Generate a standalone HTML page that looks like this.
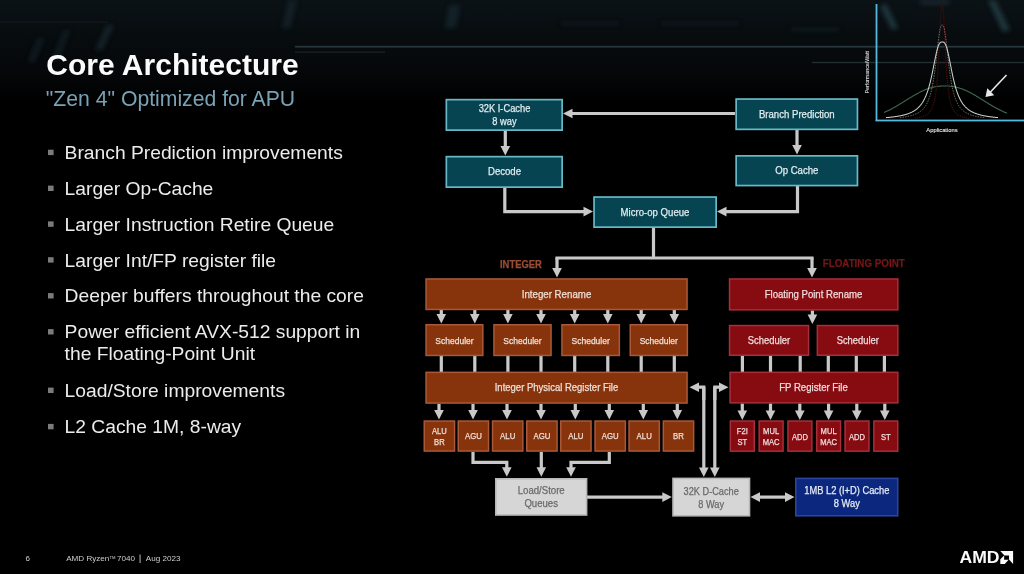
<!DOCTYPE html>
<html><head><meta charset="utf-8">
<style>
html,body{margin:0;padding:0;}
body{width:1024px;height:574px;overflow:hidden;position:relative;background:#000;font-family:"Liberation Sans",sans-serif;}
.bg{position:absolute;left:0;top:0;width:1024px;height:574px;will-change:transform;}
svg text{font-family:"Liberation Sans",sans-serif;}
</style></head>
<body>
<svg class="bg" width="1024" height="574" viewBox="0 0 1024 574">
<defs>
<linearGradient id="topg" x1="0" y1="0" x2="0" y2="1">
<stop offset="0" stop-color="#0b1216"/><stop offset="0.3" stop-color="#080d10"/><stop offset="0.7" stop-color="#05080a"/><stop offset="1" stop-color="#000"/>
</linearGradient>
<filter id="blur1" x="-50%" y="-50%" width="200%" height="200%"><feGaussianBlur stdDeviation="2.5"/></filter>
</defs>
<rect x="0" y="0" width="1024" height="100" fill="url(#topg)"/>
<g filter="url(#blur1)" opacity="0.75">
<polygon points="28,62 34,62 44,38 38,38" fill="#16242a"/>
<polygon points="52,60 58,60 70,30 64,30" fill="#16242a"/>
<polygon points="95,50 102,50 114,25 107,25" fill="#1a2a30"/>
<polygon points="282,28 290,28 297,0 289,0" fill="#18282e"/>
<polygon points="445,28 456,28 460,5 449,5" fill="#18282e"/>
<polygon points="880,6 886,4 898,28 892,30" fill="#28464e"/>
<polygon points="988,0 995,0 1010,30 1003,32" fill="#28464e"/>
<rect x="920" y="0" width="30" height="4" fill="#22363e"/>
<rect x="560" y="22" width="60" height="3" fill="#141e22"/>
<rect x="660" y="22" width="80" height="3" fill="#141e22"/>
<rect x="790" y="28" width="50" height="3" fill="#162226"/>
</g>
<rect x="0" y="21.5" width="108" height="1.2" fill="#131b1e"/>
<rect x="295" y="45.8" width="729" height="1.8" fill="#27363c"/>
<rect x="295" y="51.5" width="90" height="1.2" fill="#1a2428"/>
<rect x="812" y="61.8" width="212" height="1.4" fill="#222e32"/>
</svg>
<svg class="bg" width="1024" height="574" viewBox="0 0 1024 574">
<polyline points="735.00,113.50 571.50,113.50" fill="none" stroke="#c9c9c9" stroke-width="3.2" stroke-linejoin="miter"/>
<polygon points="563.00,113.50 572.50,108.70 572.50,118.30" fill="#c9c9c9"/>
<polyline points="505.30,131.00 505.30,147.00" fill="none" stroke="#c9c9c9" stroke-width="3.2" stroke-linejoin="miter"/>
<polygon points="505.30,155.50 500.50,146.00 510.10,146.00" fill="#c9c9c9"/>
<polyline points="504.80,188.00 504.80,211.60 584.50,211.60" fill="none" stroke="#c9c9c9" stroke-width="3.2" stroke-linejoin="miter"/>
<polygon points="593.00,211.60 583.50,206.80 583.50,216.40" fill="#c9c9c9"/>
<polyline points="797.00,130.00 797.00,146.00" fill="none" stroke="#c9c9c9" stroke-width="3.2" stroke-linejoin="miter"/>
<polygon points="797.00,154.50 792.20,145.00 801.80,145.00" fill="#c9c9c9"/>
<polyline points="797.50,186.00 797.50,211.60 725.50,211.60" fill="none" stroke="#c9c9c9" stroke-width="3.2" stroke-linejoin="miter"/>
<polygon points="717.00,211.60 726.50,206.80 726.50,216.40" fill="#c9c9c9"/>
<polyline points="653.50,228.00 653.50,258.00" fill="none" stroke="#c9c9c9" stroke-width="3.2" stroke-linejoin="miter"/>
<polyline points="557.00,258.00 557.00,269.00" fill="none" stroke="#c9c9c9" stroke-width="3.2" stroke-linejoin="miter"/>
<polygon points="557.00,277.50 552.20,268.00 561.80,268.00" fill="#c9c9c9"/>
<polyline points="555.40,258.00 813.60,258.00" fill="none" stroke="#c9c9c9" stroke-width="3.2" stroke-linejoin="miter"/>
<polyline points="812.00,258.00 812.00,269.00" fill="none" stroke="#c9c9c9" stroke-width="3.2" stroke-linejoin="miter"/>
<polygon points="812.00,277.50 807.20,268.00 816.80,268.00" fill="#c9c9c9"/>
<polyline points="441.30,310.00 441.30,315.00" fill="none" stroke="#c9c9c9" stroke-width="3.2" stroke-linejoin="miter"/>
<polygon points="441.30,323.50 436.50,314.00 446.10,314.00" fill="#c9c9c9"/>
<polyline points="441.30,356.00 441.30,372.00" fill="none" stroke="#c9c9c9" stroke-width="3.2" stroke-linejoin="miter"/>
<polyline points="474.80,310.00 474.80,315.00" fill="none" stroke="#c9c9c9" stroke-width="3.2" stroke-linejoin="miter"/>
<polygon points="474.80,323.50 470.00,314.00 479.60,314.00" fill="#c9c9c9"/>
<polyline points="474.80,356.00 474.80,372.00" fill="none" stroke="#c9c9c9" stroke-width="3.2" stroke-linejoin="miter"/>
<polyline points="507.90,310.00 507.90,315.00" fill="none" stroke="#c9c9c9" stroke-width="3.2" stroke-linejoin="miter"/>
<polygon points="507.90,323.50 503.10,314.00 512.70,314.00" fill="#c9c9c9"/>
<polyline points="507.90,356.00 507.90,372.00" fill="none" stroke="#c9c9c9" stroke-width="3.2" stroke-linejoin="miter"/>
<polyline points="541.00,310.00 541.00,315.00" fill="none" stroke="#c9c9c9" stroke-width="3.2" stroke-linejoin="miter"/>
<polygon points="541.00,323.50 536.20,314.00 545.80,314.00" fill="#c9c9c9"/>
<polyline points="541.00,356.00 541.00,372.00" fill="none" stroke="#c9c9c9" stroke-width="3.2" stroke-linejoin="miter"/>
<polyline points="574.70,310.00 574.70,315.00" fill="none" stroke="#c9c9c9" stroke-width="3.2" stroke-linejoin="miter"/>
<polygon points="574.70,323.50 569.90,314.00 579.50,314.00" fill="#c9c9c9"/>
<polyline points="574.70,356.00 574.70,372.00" fill="none" stroke="#c9c9c9" stroke-width="3.2" stroke-linejoin="miter"/>
<polyline points="607.80,310.00 607.80,315.00" fill="none" stroke="#c9c9c9" stroke-width="3.2" stroke-linejoin="miter"/>
<polygon points="607.80,323.50 603.00,314.00 612.60,314.00" fill="#c9c9c9"/>
<polyline points="607.80,356.00 607.80,372.00" fill="none" stroke="#c9c9c9" stroke-width="3.2" stroke-linejoin="miter"/>
<polyline points="641.20,310.00 641.20,315.00" fill="none" stroke="#c9c9c9" stroke-width="3.2" stroke-linejoin="miter"/>
<polygon points="641.20,323.50 636.40,314.00 646.00,314.00" fill="#c9c9c9"/>
<polyline points="641.20,356.00 641.20,372.00" fill="none" stroke="#c9c9c9" stroke-width="3.2" stroke-linejoin="miter"/>
<polyline points="674.30,310.00 674.30,315.00" fill="none" stroke="#c9c9c9" stroke-width="3.2" stroke-linejoin="miter"/>
<polygon points="674.30,323.50 669.50,314.00 679.10,314.00" fill="#c9c9c9"/>
<polyline points="674.30,356.00 674.30,372.00" fill="none" stroke="#c9c9c9" stroke-width="3.2" stroke-linejoin="miter"/>
<polyline points="439.00,404.00 439.00,411.00" fill="none" stroke="#c9c9c9" stroke-width="3.2" stroke-linejoin="miter"/>
<polygon points="439.00,419.50 434.20,410.00 443.80,410.00" fill="#c9c9c9"/>
<polyline points="473.00,404.00 473.00,411.00" fill="none" stroke="#c9c9c9" stroke-width="3.2" stroke-linejoin="miter"/>
<polygon points="473.00,419.50 468.20,410.00 477.80,410.00" fill="#c9c9c9"/>
<polyline points="507.00,404.00 507.00,411.00" fill="none" stroke="#c9c9c9" stroke-width="3.2" stroke-linejoin="miter"/>
<polygon points="507.00,419.50 502.20,410.00 511.80,410.00" fill="#c9c9c9"/>
<polyline points="541.00,404.00 541.00,411.00" fill="none" stroke="#c9c9c9" stroke-width="3.2" stroke-linejoin="miter"/>
<polygon points="541.00,419.50 536.20,410.00 545.80,410.00" fill="#c9c9c9"/>
<polyline points="575.30,404.00 575.30,411.00" fill="none" stroke="#c9c9c9" stroke-width="3.2" stroke-linejoin="miter"/>
<polygon points="575.30,419.50 570.50,410.00 580.10,410.00" fill="#c9c9c9"/>
<polyline points="609.30,404.00 609.30,411.00" fill="none" stroke="#c9c9c9" stroke-width="3.2" stroke-linejoin="miter"/>
<polygon points="609.30,419.50 604.50,410.00 614.10,410.00" fill="#c9c9c9"/>
<polyline points="643.30,404.00 643.30,411.00" fill="none" stroke="#c9c9c9" stroke-width="3.2" stroke-linejoin="miter"/>
<polygon points="643.30,419.50 638.50,410.00 648.10,410.00" fill="#c9c9c9"/>
<polyline points="677.30,404.00 677.30,411.00" fill="none" stroke="#c9c9c9" stroke-width="3.2" stroke-linejoin="miter"/>
<polygon points="677.30,419.50 672.50,410.00 682.10,410.00" fill="#c9c9c9"/>
<polyline points="812.40,310.50 812.40,315.50" fill="none" stroke="#c9c9c9" stroke-width="3.2" stroke-linejoin="miter"/>
<polygon points="812.40,324.00 807.60,314.50 817.20,314.50" fill="#c9c9c9"/>
<polyline points="742.40,356.00 742.40,372.00" fill="none" stroke="#c9c9c9" stroke-width="3.2" stroke-linejoin="miter"/>
<polyline points="770.50,356.00 770.50,372.00" fill="none" stroke="#c9c9c9" stroke-width="3.2" stroke-linejoin="miter"/>
<polyline points="800.20,356.00 800.20,372.00" fill="none" stroke="#c9c9c9" stroke-width="3.2" stroke-linejoin="miter"/>
<polyline points="828.30,356.00 828.30,372.00" fill="none" stroke="#c9c9c9" stroke-width="3.2" stroke-linejoin="miter"/>
<polyline points="856.30,356.00 856.30,372.00" fill="none" stroke="#c9c9c9" stroke-width="3.2" stroke-linejoin="miter"/>
<polyline points="884.40,356.00 884.40,372.00" fill="none" stroke="#c9c9c9" stroke-width="3.2" stroke-linejoin="miter"/>
<polyline points="742.30,403.50 742.30,411.50" fill="none" stroke="#c9c9c9" stroke-width="3.2" stroke-linejoin="miter"/>
<polygon points="742.30,420.00 737.50,410.50 747.10,410.50" fill="#c9c9c9"/>
<polyline points="770.50,403.50 770.50,411.50" fill="none" stroke="#c9c9c9" stroke-width="3.2" stroke-linejoin="miter"/>
<polygon points="770.50,420.00 765.70,410.50 775.30,410.50" fill="#c9c9c9"/>
<polyline points="799.80,403.50 799.80,411.50" fill="none" stroke="#c9c9c9" stroke-width="3.2" stroke-linejoin="miter"/>
<polygon points="799.80,420.00 795.00,410.50 804.60,410.50" fill="#c9c9c9"/>
<polyline points="828.60,403.50 828.60,411.50" fill="none" stroke="#c9c9c9" stroke-width="3.2" stroke-linejoin="miter"/>
<polygon points="828.60,420.00 823.80,410.50 833.40,410.50" fill="#c9c9c9"/>
<polyline points="856.80,403.50 856.80,411.50" fill="none" stroke="#c9c9c9" stroke-width="3.2" stroke-linejoin="miter"/>
<polygon points="856.80,420.00 852.00,410.50 861.60,410.50" fill="#c9c9c9"/>
<polyline points="884.80,403.50 884.80,411.50" fill="none" stroke="#c9c9c9" stroke-width="3.2" stroke-linejoin="miter"/>
<polygon points="884.80,420.00 880.00,410.50 889.60,410.50" fill="#c9c9c9"/>
<polyline points="473.00,452.00 473.00,462.30 506.80,462.30 506.80,468.30" fill="none" stroke="#c9c9c9" stroke-width="3.2" stroke-linejoin="miter"/>
<polygon points="506.80,476.80 502.00,467.30 511.60,467.30" fill="#c9c9c9"/>
<polyline points="541.30,452.00 541.30,468.30" fill="none" stroke="#c9c9c9" stroke-width="3.2" stroke-linejoin="miter"/>
<polygon points="541.30,476.80 536.50,467.30 546.10,467.30" fill="#c9c9c9"/>
<polyline points="609.30,452.00 609.30,462.30 571.00,462.30 571.00,468.30" fill="none" stroke="#c9c9c9" stroke-width="3.2" stroke-linejoin="miter"/>
<polygon points="571.00,476.80 566.20,467.30 575.80,467.30" fill="#c9c9c9"/>
<polyline points="703.80,400.00 703.80,387.20 698.00,387.20" fill="none" stroke="#c9c9c9" stroke-width="3.2" stroke-linejoin="miter"/>
<polygon points="689.50,387.20 699.00,382.40 699.00,392.00" fill="#c9c9c9"/>
<polyline points="703.80,387.20 703.80,468.50" fill="none" stroke="#c9c9c9" stroke-width="3.2" stroke-linejoin="miter"/>
<polygon points="703.80,477.00 699.00,467.50 708.60,467.50" fill="#c9c9c9"/>
<polyline points="714.80,400.00 714.80,387.20 720.00,387.20" fill="none" stroke="#c9c9c9" stroke-width="3.2" stroke-linejoin="miter"/>
<polygon points="728.50,387.20 719.00,382.40 719.00,392.00" fill="#c9c9c9"/>
<polyline points="714.80,387.20 714.80,468.50" fill="none" stroke="#c9c9c9" stroke-width="3.2" stroke-linejoin="miter"/>
<polygon points="714.80,477.00 710.00,467.50 719.60,467.50" fill="#c9c9c9"/>
<polyline points="587.00,497.10 663.30,497.10" fill="none" stroke="#c9c9c9" stroke-width="3.2" stroke-linejoin="miter"/>
<polygon points="671.80,497.10 662.30,492.30 662.30,501.90" fill="#c9c9c9"/>
<polyline points="770.00,497.10 759.00,497.10" fill="none" stroke="#c9c9c9" stroke-width="3.2" stroke-linejoin="miter"/>
<polygon points="750.50,497.10 760.00,492.30 760.00,501.90" fill="#c9c9c9"/>
<polyline points="770.00,497.10 786.00,497.10" fill="none" stroke="#c9c9c9" stroke-width="3.2" stroke-linejoin="miter"/>
<polygon points="794.50,497.10 785.00,492.30 785.00,501.90" fill="#c9c9c9"/>
<rect x="446.35" y="99.65" width="115.80" height="30.50" fill="#074452" stroke="#68b8c8" stroke-width="1.7"/>
<text x="504.50" y="111.60" font-size="10.23" textLength="51.70" lengthAdjust="spacingAndGlyphs" fill="#e0ecef" stroke="#e0ecef" stroke-width="0.25" font-weight="normal" text-anchor="middle" >32K I-Cache</text>
<text x="504.50" y="124.50" font-size="10.23" textLength="24.29" lengthAdjust="spacingAndGlyphs" fill="#e0ecef" stroke="#e0ecef" stroke-width="0.25" font-weight="normal" text-anchor="middle" >8 way</text>
<rect x="446.35" y="156.65" width="115.80" height="30.50" fill="#074452" stroke="#68b8c8" stroke-width="1.7"/>
<text x="504.50" y="175.00" font-size="10.56" textLength="33.09" lengthAdjust="spacingAndGlyphs" fill="#e0ecef" stroke="#e0ecef" stroke-width="0.25" font-weight="normal" text-anchor="middle" >Decode</text>
<rect x="736.15" y="99.05" width="121.30" height="30.30" fill="#074452" stroke="#68b8c8" stroke-width="1.7"/>
<text x="796.80" y="117.60" font-size="10.56" textLength="75.77" lengthAdjust="spacingAndGlyphs" fill="#e0ecef" stroke="#e0ecef" stroke-width="0.25" font-weight="normal" text-anchor="middle" >Branch Prediction</text>
<rect x="736.15" y="155.85" width="121.30" height="29.70" fill="#074452" stroke="#68b8c8" stroke-width="1.7"/>
<text x="796.80" y="174.00" font-size="10.56" textLength="43.22" lengthAdjust="spacingAndGlyphs" fill="#e0ecef" stroke="#e0ecef" stroke-width="0.25" font-weight="normal" text-anchor="middle" >Op Cache</text>
<rect x="594.05" y="197.05" width="122.10" height="30.10" fill="#074452" stroke="#68b8c8" stroke-width="1.7"/>
<text x="655.00" y="215.50" font-size="10.56" textLength="68.83" lengthAdjust="spacingAndGlyphs" fill="#e0ecef" stroke="#e0ecef" stroke-width="0.25" font-weight="normal" text-anchor="middle" >Micro-op Queue</text>
<text x="500.00" y="268.20" font-size="10.34" textLength="41.78" lengthAdjust="spacingAndGlyphs" fill="#9a4c36" stroke="#9a4c36" stroke-width="0.25" font-weight="bold" text-anchor="start" >INTEGER</text>
<text x="822.70" y="267.40" font-size="10.78" textLength="82.02" lengthAdjust="spacingAndGlyphs" fill="#741618" stroke="#741618" stroke-width="0.25" font-weight="bold" text-anchor="start" >FLOATING POINT</text>
<rect x="426.05" y="278.95" width="261.00" height="30.50" fill="#87330c" stroke="#a9593a" stroke-width="1.5"/>
<text x="556.50" y="297.50" font-size="10.67" textLength="69.56" lengthAdjust="spacingAndGlyphs" fill="#eee0d8" stroke="#eee0d8" stroke-width="0.25" font-weight="normal" text-anchor="middle" >Integer Rename</text>
<rect x="426.05" y="324.75" width="56.80" height="30.70" fill="#87330c" stroke="#a9593a" stroke-width="1.5"/>
<text x="454.45" y="343.50" font-size="9.35" textLength="38.28" lengthAdjust="spacingAndGlyphs" fill="#eee0d8" stroke="#eee0d8" stroke-width="0.25" font-weight="normal" text-anchor="middle" >Scheduler</text>
<rect x="493.95" y="324.75" width="57.10" height="30.70" fill="#87330c" stroke="#a9593a" stroke-width="1.5"/>
<text x="522.50" y="343.50" font-size="9.35" textLength="38.28" lengthAdjust="spacingAndGlyphs" fill="#eee0d8" stroke="#eee0d8" stroke-width="0.25" font-weight="normal" text-anchor="middle" >Scheduler</text>
<rect x="561.95" y="324.75" width="57.40" height="30.70" fill="#87330c" stroke="#a9593a" stroke-width="1.5"/>
<text x="590.65" y="343.50" font-size="9.35" textLength="38.28" lengthAdjust="spacingAndGlyphs" fill="#eee0d8" stroke="#eee0d8" stroke-width="0.25" font-weight="normal" text-anchor="middle" >Scheduler</text>
<rect x="630.25" y="324.75" width="57.10" height="30.70" fill="#87330c" stroke="#a9593a" stroke-width="1.5"/>
<text x="658.80" y="343.50" font-size="9.35" textLength="38.28" lengthAdjust="spacingAndGlyphs" fill="#eee0d8" stroke="#eee0d8" stroke-width="0.25" font-weight="normal" text-anchor="middle" >Scheduler</text>
<rect x="426.05" y="372.35" width="261.00" height="30.70" fill="#87330c" stroke="#a9593a" stroke-width="1.5"/>
<text x="556.50" y="391.00" font-size="10.45" textLength="123.55" lengthAdjust="spacingAndGlyphs" fill="#eee0d8" stroke="#eee0d8" stroke-width="0.25" font-weight="normal" text-anchor="middle" >Integer Physical Register File</text>
<rect x="424.25" y="421.05" width="30.30" height="30.00" fill="#87330c" stroke="#a9593a" stroke-width="1.5"/>
<text x="439.40" y="434.00" font-size="8.36" textLength="14.78" lengthAdjust="spacingAndGlyphs" fill="#eee0d8" stroke="#eee0d8" stroke-width="0.25" font-weight="normal" text-anchor="middle" >ALU</text>
<text x="439.40" y="444.50" font-size="8.36" textLength="10.56" lengthAdjust="spacingAndGlyphs" fill="#eee0d8" stroke="#eee0d8" stroke-width="0.25" font-weight="normal" text-anchor="middle" >BR</text>
<rect x="458.25" y="421.05" width="30.30" height="30.00" fill="#87330c" stroke="#a9593a" stroke-width="1.5"/>
<text x="473.40" y="439.30" font-size="8.58" textLength="16.90" lengthAdjust="spacingAndGlyphs" fill="#eee0d8" stroke="#eee0d8" stroke-width="0.25" font-weight="normal" text-anchor="middle" >AGU</text>
<rect x="492.55" y="421.05" width="30.30" height="30.00" fill="#87330c" stroke="#a9593a" stroke-width="1.5"/>
<text x="507.70" y="439.30" font-size="8.58" textLength="15.17" lengthAdjust="spacingAndGlyphs" fill="#eee0d8" stroke="#eee0d8" stroke-width="0.25" font-weight="normal" text-anchor="middle" >ALU</text>
<rect x="526.75" y="421.05" width="30.30" height="30.00" fill="#87330c" stroke="#a9593a" stroke-width="1.5"/>
<text x="541.90" y="439.30" font-size="8.58" textLength="16.90" lengthAdjust="spacingAndGlyphs" fill="#eee0d8" stroke="#eee0d8" stroke-width="0.25" font-weight="normal" text-anchor="middle" >AGU</text>
<rect x="560.75" y="421.05" width="30.30" height="30.00" fill="#87330c" stroke="#a9593a" stroke-width="1.5"/>
<text x="575.90" y="439.30" font-size="8.58" textLength="15.17" lengthAdjust="spacingAndGlyphs" fill="#eee0d8" stroke="#eee0d8" stroke-width="0.25" font-weight="normal" text-anchor="middle" >ALU</text>
<rect x="595.05" y="421.05" width="30.30" height="30.00" fill="#87330c" stroke="#a9593a" stroke-width="1.5"/>
<text x="610.20" y="439.30" font-size="8.58" textLength="16.90" lengthAdjust="spacingAndGlyphs" fill="#eee0d8" stroke="#eee0d8" stroke-width="0.25" font-weight="normal" text-anchor="middle" >AGU</text>
<rect x="629.05" y="421.05" width="30.30" height="30.00" fill="#87330c" stroke="#a9593a" stroke-width="1.5"/>
<text x="644.20" y="439.30" font-size="8.58" textLength="15.17" lengthAdjust="spacingAndGlyphs" fill="#eee0d8" stroke="#eee0d8" stroke-width="0.25" font-weight="normal" text-anchor="middle" >ALU</text>
<rect x="663.35" y="421.05" width="30.30" height="30.00" fill="#87330c" stroke="#a9593a" stroke-width="1.5"/>
<text x="678.50" y="439.30" font-size="8.58" textLength="10.84" lengthAdjust="spacingAndGlyphs" fill="#eee0d8" stroke="#eee0d8" stroke-width="0.25" font-weight="normal" text-anchor="middle" >BR</text>
<rect x="729.55" y="278.95" width="168.30" height="30.90" fill="#860c12" stroke="#a5303a" stroke-width="1.5"/>
<text x="813.50" y="297.80" font-size="10.56" textLength="97.66" lengthAdjust="spacingAndGlyphs" fill="#f0dcdc" stroke="#f0dcdc" stroke-width="0.25" font-weight="normal" text-anchor="middle" >Floating Point Rename</text>
<rect x="729.55" y="325.55" width="79.00" height="29.70" fill="#860c12" stroke="#a5303a" stroke-width="1.5"/>
<text x="769.00" y="343.80" font-size="10.34" textLength="42.33" lengthAdjust="spacingAndGlyphs" fill="#f0dcdc" stroke="#f0dcdc" stroke-width="0.25" font-weight="normal" text-anchor="middle" >Scheduler</text>
<rect x="817.35" y="325.55" width="80.50" height="29.70" fill="#860c12" stroke="#a5303a" stroke-width="1.5"/>
<text x="857.80" y="343.80" font-size="10.34" textLength="42.33" lengthAdjust="spacingAndGlyphs" fill="#f0dcdc" stroke="#f0dcdc" stroke-width="0.25" font-weight="normal" text-anchor="middle" >Scheduler</text>
<rect x="730.05" y="372.35" width="167.80" height="30.50" fill="#860c12" stroke="#a5303a" stroke-width="1.5"/>
<text x="813.50" y="391.00" font-size="10.56" textLength="68.64" lengthAdjust="spacingAndGlyphs" fill="#f0dcdc" stroke="#f0dcdc" stroke-width="0.25" font-weight="normal" text-anchor="middle" >FP Register File</text>
<rect x="730.35" y="421.05" width="23.90" height="30.10" fill="#860c12" stroke="#a5303a" stroke-width="1.5"/>
<text x="742.30" y="434.00" font-size="8.36" textLength="10.98" lengthAdjust="spacingAndGlyphs" fill="#f0dcdc" stroke="#f0dcdc" stroke-width="0.25" font-weight="normal" text-anchor="middle" >F2I</text>
<text x="742.30" y="444.80" font-size="8.36" textLength="9.71" lengthAdjust="spacingAndGlyphs" fill="#f0dcdc" stroke="#f0dcdc" stroke-width="0.25" font-weight="normal" text-anchor="middle" >ST</text>
<rect x="759.15" y="421.05" width="23.90" height="30.10" fill="#860c12" stroke="#a5303a" stroke-width="1.5"/>
<text x="771.10" y="434.00" font-size="8.36" textLength="16.05" lengthAdjust="spacingAndGlyphs" fill="#f0dcdc" stroke="#f0dcdc" stroke-width="0.25" font-weight="normal" text-anchor="middle" >MUL</text>
<text x="771.10" y="444.80" font-size="8.36" textLength="16.89" lengthAdjust="spacingAndGlyphs" fill="#f0dcdc" stroke="#f0dcdc" stroke-width="0.25" font-weight="normal" text-anchor="middle" >MAC</text>
<rect x="787.95" y="421.05" width="23.90" height="30.10" fill="#860c12" stroke="#a5303a" stroke-width="1.5"/>
<text x="799.90" y="439.50" font-size="8.36" textLength="16.05" lengthAdjust="spacingAndGlyphs" fill="#f0dcdc" stroke="#f0dcdc" stroke-width="0.25" font-weight="normal" text-anchor="middle" >ADD</text>
<rect x="816.65" y="421.05" width="23.90" height="30.10" fill="#860c12" stroke="#a5303a" stroke-width="1.5"/>
<text x="828.60" y="434.00" font-size="8.36" textLength="16.05" lengthAdjust="spacingAndGlyphs" fill="#f0dcdc" stroke="#f0dcdc" stroke-width="0.25" font-weight="normal" text-anchor="middle" >MUL</text>
<text x="828.60" y="444.80" font-size="8.36" textLength="16.89" lengthAdjust="spacingAndGlyphs" fill="#f0dcdc" stroke="#f0dcdc" stroke-width="0.25" font-weight="normal" text-anchor="middle" >MAC</text>
<rect x="845.05" y="421.05" width="23.90" height="30.10" fill="#860c12" stroke="#a5303a" stroke-width="1.5"/>
<text x="857.00" y="439.50" font-size="8.36" textLength="16.05" lengthAdjust="spacingAndGlyphs" fill="#f0dcdc" stroke="#f0dcdc" stroke-width="0.25" font-weight="normal" text-anchor="middle" >ADD</text>
<rect x="873.85" y="421.05" width="23.90" height="30.10" fill="#860c12" stroke="#a5303a" stroke-width="1.5"/>
<text x="885.80" y="439.50" font-size="8.36" textLength="9.71" lengthAdjust="spacingAndGlyphs" fill="#f0dcdc" stroke="#f0dcdc" stroke-width="0.25" font-weight="normal" text-anchor="middle" >ST</text>
<rect x="495.80" y="478.80" width="90.80" height="36.20" fill="#d6d6d6" stroke="#b8b8b8" stroke-width="1.6"/>
<text x="541.20" y="494.40" font-size="10.56" textLength="46.97" lengthAdjust="spacingAndGlyphs" fill="#6a6a6a" stroke="#6a6a6a" stroke-width="0.25" font-weight="normal" text-anchor="middle" >Load/Store</text>
<text x="541.20" y="507.40" font-size="10.56" textLength="33.62" lengthAdjust="spacingAndGlyphs" fill="#6a6a6a" stroke="#6a6a6a" stroke-width="0.25" font-weight="normal" text-anchor="middle" >Queues</text>
<rect x="673.00" y="478.40" width="76.50" height="37.40" fill="#d6d6d6" stroke="#b8b8b8" stroke-width="1.6"/>
<text x="711.20" y="494.80" font-size="10.12" textLength="55.23" lengthAdjust="spacingAndGlyphs" fill="#6a6a6a" stroke="#6a6a6a" stroke-width="0.25" font-weight="normal" text-anchor="middle" >32K D-Cache</text>
<text x="711.20" y="507.60" font-size="10.12" textLength="25.73" lengthAdjust="spacingAndGlyphs" fill="#6a6a6a" stroke="#6a6a6a" stroke-width="0.25" font-weight="normal" text-anchor="middle" >8 Way</text>
<rect x="795.80" y="478.40" width="101.90" height="37.40" fill="#0c277e" stroke="#2a44a0" stroke-width="1.6"/>
<text x="846.80" y="494.00" font-size="10.23" textLength="85.03" lengthAdjust="spacingAndGlyphs" fill="#e6ecf6" stroke="#e6ecf6" stroke-width="0.25" font-weight="normal" text-anchor="middle" >1MB L2 (I+D) Cache</text>
<text x="846.80" y="507.00" font-size="10.23" textLength="26.01" lengthAdjust="spacingAndGlyphs" fill="#e6ecf6" stroke="#e6ecf6" stroke-width="0.25" font-weight="normal" text-anchor="middle" >8 Way</text>
<polyline points="884.00,112.47 884.50,112.26 885.00,112.04 885.50,111.82 886.00,111.60 886.50,111.37 887.00,111.14 887.50,110.90 888.00,110.66 888.50,110.42 889.00,110.18 889.50,109.93 890.00,109.68 890.50,109.42 891.00,109.16 891.50,108.90 892.00,108.64 892.50,108.37 893.00,108.10 893.50,107.82 894.00,107.55 894.50,107.27 895.00,106.99 895.50,106.70 896.00,106.41 896.50,106.12 897.00,105.83 897.50,105.54 898.00,105.24 898.50,104.94 899.00,104.64 899.50,104.34 900.00,104.04 900.50,103.73 901.00,103.43 901.50,103.12 902.00,102.81 902.50,102.50 903.00,102.19 903.50,101.88 904.00,101.56 904.50,101.25 905.00,100.94 905.50,100.62 906.00,100.31 906.50,100.00 907.00,99.68 907.50,99.37 908.00,99.06 908.50,98.75 909.00,98.44 909.50,98.13 910.00,97.82 910.50,97.51 911.00,97.20 911.50,96.90 912.00,96.60 912.50,96.30 913.00,96.00 913.50,95.70 914.00,95.41 914.50,95.12 915.00,94.83 915.50,94.54 916.00,94.26 916.50,93.98 917.00,93.70 917.50,93.43 918.00,93.16 918.50,92.89 919.00,92.63 919.50,92.37 920.00,92.11 920.50,91.86 921.00,91.62 921.50,91.37 922.00,91.14 922.50,90.90 923.00,90.68 923.50,90.45 924.00,90.23 924.50,90.02 925.00,89.81 925.50,89.61 926.00,89.41 926.50,89.22 927.00,89.03 927.50,88.85 928.00,88.67 928.50,88.50 929.00,88.33 929.50,88.18 930.00,88.02 930.50,87.87 931.00,87.73 931.50,87.59 932.00,87.46 932.50,87.34 933.00,87.22 933.50,87.11 934.00,87.00 934.50,86.90 935.00,86.80 935.50,86.71 936.00,86.63 936.50,86.55 937.00,86.48 937.50,86.41 938.00,86.35 938.50,86.29 939.00,86.24 939.50,86.19 940.00,86.15 940.50,86.12 941.00,86.09 941.50,86.06 942.00,86.04 942.50,86.03 943.00,86.01 943.50,86.01 944.00,86.00 944.50,86.00 945.00,86.00 945.50,86.00 946.00,86.01 946.50,86.02 947.00,86.04 947.50,86.05 948.00,86.08 948.50,86.11 949.00,86.14 949.50,86.18 950.00,86.22 950.50,86.27 951.00,86.32 951.50,86.38 952.00,86.45 952.50,86.52 953.00,86.60 953.50,86.68 954.00,86.77 954.50,86.86 955.00,86.96 955.50,87.06 956.00,87.17 956.50,87.29 957.00,87.41 957.50,87.54 958.00,87.68 958.50,87.82 959.00,87.96 959.50,88.11 960.00,88.27 960.50,88.43 961.00,88.60 961.50,88.78 962.00,88.96 962.50,89.14 963.00,89.33 963.50,89.53 964.00,89.73 964.50,89.94 965.00,90.15 965.50,90.36 966.00,90.59 966.50,90.81 967.00,91.04 967.50,91.28 968.00,91.52 968.50,91.76 969.00,92.01 969.50,92.27 970.00,92.52 970.50,92.79 971.00,93.05 971.50,93.32 972.00,93.59 972.50,93.87 973.00,94.15 973.50,94.43 974.00,94.71 974.50,95.00 975.00,95.29 975.50,95.58 976.00,95.88 976.50,96.18 977.00,96.48 977.50,96.78 978.00,97.08 978.50,97.39 979.00,97.70 979.50,98.00 980.00,98.31 980.50,98.62 981.00,98.93 981.50,99.25 982.00,99.56 982.50,99.87 983.00,100.19 983.50,100.50 984.00,100.81 984.50,101.13 985.00,101.44 985.50,101.75 986.00,102.06 986.50,102.37 987.00,102.69 987.50,102.99 988.00,103.30 988.50,103.61 989.00,103.92 989.50,104.22 990.00,104.52 990.50,104.82 991.00,105.12 991.50,105.42 992.00,105.72 992.50,106.01 993.00,106.30 993.50,106.59 994.00,106.87 994.50,107.16 995.00,107.44 995.50,107.71 996.00,107.99 996.50,108.26 997.00,108.53 997.50,108.80 998.00,109.06 998.50,109.32 999.00,109.58 999.50,109.83 1000.00,110.08 1000.50,110.32 1001.00,110.57 1001.50,110.81 1002.00,111.04 1002.50,111.28 1003.00,111.50 1003.50,111.73 1004.00,111.95 1004.50,112.17 1005.00,112.38 1005.50,112.59 1006.00,112.80 1006.50,113.00 1007.00,113.20" fill="none" stroke="#3f6a52" stroke-width="1.1"/>
<polyline points="915.00,118.23 915.25,118.19 915.50,118.16 915.75,118.13 916.00,118.09 916.25,118.05 916.50,118.01 916.75,117.98 917.00,117.94 917.25,117.89 917.50,117.85 917.75,117.81 918.00,117.76 918.25,117.72 918.50,117.67 918.75,117.62 919.00,117.57 919.25,117.51 919.50,117.46 919.75,117.40 920.00,117.35 920.25,117.29 920.50,117.22 920.75,117.16 921.00,117.09 921.25,117.02 921.50,116.95 921.75,116.88 922.00,116.80 922.25,116.72 922.50,116.64 922.75,116.55 923.00,116.46 923.25,116.37 923.50,116.27 923.75,116.17 924.00,116.07 924.25,115.96 924.50,115.85 924.75,115.73 925.00,115.61 925.25,115.48 925.50,115.34 925.75,115.20 926.00,115.06 926.25,114.91 926.50,114.75 926.75,114.58 927.00,114.40 927.25,114.22 927.50,114.02 927.75,113.82 928.00,113.61 928.25,113.38 928.50,113.15 928.75,112.90 929.00,112.63 929.25,112.36 929.50,112.06 929.75,111.75 930.00,111.43 930.25,111.08 930.50,110.71 930.75,110.32 931.00,109.90 931.25,109.46 931.50,108.99 931.75,108.49 932.00,107.95 932.25,107.37 932.50,106.76 932.75,106.10 933.00,105.39 933.25,104.63 933.50,103.81 933.75,102.93 934.00,101.98 934.25,100.95 934.50,99.84 934.75,98.63 935.00,97.32 935.25,95.89 935.50,94.34 935.75,92.65 936.00,90.81 936.25,88.80 936.50,86.60 936.75,84.20 937.00,81.57 937.25,78.70 937.50,75.56 937.75,72.15 938.00,68.44 938.25,64.42 938.50,60.10 938.75,55.48 939.00,50.59 939.25,45.48 939.50,40.21 939.75,34.88 940.00,29.62 940.25,24.58 940.50,19.92 940.75,15.79 941.00,12.33 941.25,9.63 941.50,7.72 941.75,6.58 942.00,6.08 942.25,6.00 942.50,6.21 942.75,6.95 943.00,8.39 943.25,10.61 943.50,13.63 943.75,17.37 944.00,21.73 944.25,26.56 944.50,31.71 944.75,37.01 945.00,42.33 945.25,47.55 945.50,52.58 945.75,57.36 946.00,61.87 946.25,66.07 946.50,69.96 946.75,73.55 947.00,76.85 947.25,79.88 947.50,82.65 947.75,85.18 948.00,87.50 948.25,89.62 948.50,91.57 948.75,93.35 949.00,94.98 949.25,96.48 949.50,97.86 949.75,99.12 950.00,100.29 950.25,101.37 950.50,102.37 950.75,103.29 951.00,104.15 951.25,104.94 951.50,105.68 951.75,106.37 952.00,107.01 952.25,107.61 952.50,108.17 952.75,108.69 953.00,109.18 953.25,109.64 953.50,110.07 953.75,110.48 954.00,110.86 954.25,111.22 954.50,111.56 954.75,111.88 955.00,112.18 955.25,112.47 955.50,112.74 955.75,113.00 956.00,113.24 956.25,113.47 956.50,113.69 956.75,113.90 957.00,114.10 957.25,114.29 957.50,114.47 957.75,114.65 958.00,114.81 958.25,114.97 958.50,115.12 958.75,115.26 959.00,115.40 959.25,115.53 959.50,115.66 959.75,115.78 960.00,115.89 960.25,116.00 960.50,116.11 960.75,116.21 961.00,116.31 961.25,116.41 961.50,116.50 961.75,116.59 962.00,116.67 962.25,116.75 962.50,116.83 962.75,116.91 963.00,116.98 963.25,117.05 963.50,117.12 963.75,117.18 964.00,117.25 964.25,117.31 964.50,117.37 964.75,117.43 965.00,117.48 965.25,117.54 965.50,117.59 965.75,117.64 966.00,117.69 966.25,117.74 966.50,117.78 966.75,117.83 967.00,117.87 967.25,117.91 967.50,117.95 967.75,117.99 968.00,118.03 968.25,118.07 968.50,118.10 968.75,118.14 969.00,118.17 969.25,118.21 969.50,118.24 969.75,118.27 970.00,118.30" fill="none" stroke="#3e0f0f" stroke-width="1.2" stroke-dasharray="1.2 0.8"/>
<polyline points="900.00,117.62 900.25,117.60 900.50,117.57 900.75,117.54 901.00,117.51 901.25,117.48 901.50,117.45 901.75,117.42 902.00,117.38 902.25,117.35 902.50,117.32 902.75,117.29 903.00,117.25 903.25,117.22 903.50,117.18 903.75,117.14 904.00,117.11 904.25,117.07 904.50,117.03 904.75,116.99 905.00,116.95 905.25,116.91 905.50,116.87 905.75,116.83 906.00,116.78 906.25,116.74 906.50,116.69 906.75,116.65 907.00,116.60 907.25,116.55 907.50,116.50 907.75,116.45 908.00,116.40 908.25,116.35 908.50,116.30 908.75,116.24 909.00,116.19 909.25,116.13 909.50,116.07 909.75,116.01 910.00,115.95 910.25,115.89 910.50,115.82 910.75,115.76 911.00,115.69 911.25,115.62 911.50,115.55 911.75,115.48 912.00,115.41 912.25,115.33 912.50,115.26 912.75,115.18 913.00,115.10 913.25,115.01 913.50,114.93 913.75,114.84 914.00,114.75 914.25,114.66 914.50,114.57 914.75,114.47 915.00,114.37 915.25,114.27 915.50,114.16 915.75,114.06 916.00,113.95 916.25,113.83 916.50,113.72 916.75,113.60 917.00,113.47 917.25,113.35 917.50,113.22 917.75,113.08 918.00,112.94 918.25,112.80 918.50,112.66 918.75,112.51 919.00,112.35 919.25,112.19 919.50,112.02 919.75,111.85 920.00,111.68 920.25,111.50 920.50,111.31 920.75,111.12 921.00,110.92 921.25,110.71 921.50,110.50 921.75,110.28 922.00,110.05 922.25,109.81 922.50,109.57 922.75,109.32 923.00,109.06 923.25,108.79 923.50,108.51 923.75,108.22 924.00,107.91 924.25,107.60 924.50,107.28 924.75,106.94 925.00,106.59 925.25,106.23 925.50,105.85 925.75,105.46 926.00,105.05 926.25,104.63 926.50,104.19 926.75,103.73 927.00,103.25 927.25,102.75 927.50,102.23 927.75,101.69 928.00,101.13 928.25,100.54 928.50,99.92 928.75,99.28 929.00,98.61 929.25,97.91 929.50,97.18 929.75,96.42 930.00,95.62 930.25,94.78 930.50,93.91 930.75,93.00 931.00,92.04 931.25,91.04 931.50,89.99 931.75,88.90 932.00,87.75 932.25,86.56 932.50,85.30 932.75,83.99 933.00,82.63 933.25,81.20 933.50,79.70 933.75,78.15 934.00,76.53 934.25,74.84 934.50,73.09 934.75,71.27 935.00,69.39 935.25,67.44 935.50,65.44 935.75,63.37 936.00,61.26 936.25,59.10 936.50,56.90 936.75,54.67 937.00,52.42 937.25,50.17 937.50,47.92 937.75,45.70 938.00,43.51 938.25,41.38 938.50,39.32 938.75,37.36 939.00,35.50 939.25,33.77 939.50,32.17 939.75,30.73 940.00,29.45 940.25,28.34 940.50,27.39 940.75,26.62 941.00,26.02 941.25,25.57 941.50,25.27 941.75,25.09 942.00,25.01 942.25,25.00 942.50,25.03 942.75,25.15 943.00,25.37 943.25,25.73 943.50,26.24 943.75,26.91 944.00,27.75 944.25,28.76 944.50,29.94 944.75,31.29 945.00,32.79 945.25,34.44 945.50,36.23 945.75,38.13 946.00,40.14 946.25,42.22 946.50,44.38 946.75,46.58 947.00,48.82 947.25,51.07 947.50,53.32 947.75,55.56 948.00,57.78 948.25,59.97 948.50,62.11 948.75,64.21 949.00,66.25 949.25,68.23 949.50,70.15 949.75,72.01 950.00,73.80 950.25,75.53 950.50,77.19 950.75,78.78 951.00,80.31 951.25,81.78 951.50,83.18 951.75,84.52 952.00,85.81 952.25,87.04 952.50,88.22 952.75,89.34 953.00,90.42 953.25,91.45 953.50,92.43 953.75,93.37 954.00,94.26 954.25,95.12 954.50,95.94 954.75,96.73 955.00,97.48 955.25,98.20 955.50,98.88 955.75,99.54 956.00,100.17 956.25,100.78 956.50,101.35 956.75,101.91 957.00,102.44 957.25,102.95 957.50,103.44 957.75,103.91 958.00,104.37 958.25,104.80 958.50,105.22 958.75,105.62 959.00,106.00 959.25,106.38 959.50,106.73 959.75,107.08 960.00,107.41 960.25,107.73 960.50,108.04 960.75,108.33 961.00,108.62 961.25,108.90 961.50,109.16 961.75,109.42 962.00,109.67 962.25,109.91 962.50,110.14 962.75,110.37 963.00,110.58 963.25,110.79 963.50,111.00 963.75,111.19 964.00,111.39 964.25,111.57 964.50,111.75 964.75,111.92 965.00,112.09 965.25,112.25 965.50,112.41 965.75,112.57 966.00,112.72 966.25,112.86 966.50,113.00 966.75,113.14 967.00,113.27 967.25,113.40 967.50,113.52 967.75,113.65 968.00,113.76 968.25,113.88 968.50,113.99 968.75,114.10 969.00,114.21 969.25,114.31 969.50,114.41 969.75,114.51 970.00,114.60 970.25,114.70 970.50,114.79 970.75,114.88 971.00,114.96 971.25,115.05 971.50,115.13 971.75,115.21 972.00,115.29 972.25,115.36 972.50,115.44 972.75,115.51 973.00,115.58 973.25,115.65 973.50,115.72 973.75,115.79 974.00,115.85 974.25,115.91 974.50,115.98 974.75,116.04 975.00,116.09 975.25,116.15 975.50,116.21 975.75,116.26 976.00,116.32 976.25,116.37 976.50,116.42 976.75,116.47 977.00,116.52 977.25,116.57 977.50,116.62 977.75,116.67 978.00,116.71 978.25,116.76 978.50,116.80 978.75,116.84 979.00,116.89 979.25,116.93 979.50,116.97 979.75,117.01 980.00,117.05 980.25,117.08 980.50,117.12 980.75,117.16 981.00,117.20 981.25,117.23 981.50,117.27 981.75,117.30 982.00,117.33 982.25,117.37 982.50,117.40 982.75,117.43 983.00,117.46 983.25,117.49 983.50,117.52 983.75,117.55 984.00,117.58 984.25,117.61 984.50,117.64 984.75,117.66 985.00,117.69" fill="none" stroke="#8f8680" stroke-width="0.9" stroke-dasharray="1.4 1.2"/>
<polyline points="886.00,117.64 886.25,117.62 886.50,117.60 886.75,117.58 887.00,117.56 887.25,117.53 887.50,117.51 887.75,117.49 888.00,117.47 888.25,117.44 888.50,117.42 888.75,117.39 889.00,117.37 889.25,117.34 889.50,117.32 889.75,117.29 890.00,117.27 890.25,117.24 890.50,117.22 890.75,117.19 891.00,117.16 891.25,117.13 891.50,117.11 891.75,117.08 892.00,117.05 892.25,117.02 892.50,116.99 892.75,116.96 893.00,116.93 893.25,116.90 893.50,116.87 893.75,116.83 894.00,116.80 894.25,116.77 894.50,116.74 894.75,116.70 895.00,116.67 895.25,116.63 895.50,116.60 895.75,116.56 896.00,116.52 896.25,116.49 896.50,116.45 896.75,116.41 897.00,116.37 897.25,116.33 897.50,116.29 897.75,116.25 898.00,116.21 898.25,116.16 898.50,116.12 898.75,116.08 899.00,116.03 899.25,115.98 899.50,115.94 899.75,115.89 900.00,115.84 900.25,115.79 900.50,115.74 900.75,115.69 901.00,115.64 901.25,115.59 901.50,115.54 901.75,115.48 902.00,115.43 902.25,115.37 902.50,115.31 902.75,115.26 903.00,115.20 903.25,115.13 903.50,115.07 903.75,115.01 904.00,114.95 904.25,114.88 904.50,114.81 904.75,114.75 905.00,114.68 905.25,114.61 905.50,114.53 905.75,114.46 906.00,114.39 906.25,114.31 906.50,114.23 906.75,114.15 907.00,114.07 907.25,113.99 907.50,113.90 907.75,113.82 908.00,113.73 908.25,113.64 908.50,113.55 908.75,113.45 909.00,113.36 909.25,113.26 909.50,113.16 909.75,113.06 910.00,112.95 910.25,112.85 910.50,112.74 910.75,112.63 911.00,112.51 911.25,112.40 911.50,112.28 911.75,112.15 912.00,112.03 912.25,111.90 912.50,111.77 912.75,111.64 913.00,111.50 913.25,111.36 913.50,111.21 913.75,111.07 914.00,110.91 914.25,110.76 914.50,110.60 914.75,110.44 915.00,110.27 915.25,110.10 915.50,109.92 915.75,109.74 916.00,109.56 916.25,109.37 916.50,109.17 916.75,108.97 917.00,108.77 917.25,108.56 917.50,108.34 917.75,108.12 918.00,107.89 918.25,107.65 918.50,107.41 918.75,107.16 919.00,106.91 919.25,106.65 919.50,106.38 919.75,106.10 920.00,105.81 920.25,105.52 920.50,105.22 920.75,104.90 921.00,104.58 921.25,104.25 921.50,103.91 921.75,103.56 922.00,103.20 922.25,102.82 922.50,102.44 922.75,102.04 923.00,101.63 923.25,101.21 923.50,100.78 923.75,100.33 924.00,99.87 924.25,99.39 924.50,98.90 924.75,98.39 925.00,97.86 925.25,97.32 925.50,96.76 925.75,96.18 926.00,95.59 926.25,94.97 926.50,94.34 926.75,93.68 927.00,93.01 927.25,92.31 927.50,91.59 927.75,90.85 928.00,90.08 928.25,89.29 928.50,88.48 928.75,87.64 929.00,86.77 929.25,85.88 929.50,84.97 929.75,84.02 930.00,83.05 930.25,82.06 930.50,81.04 930.75,79.99 931.00,78.91 931.25,77.82 931.50,76.69 931.75,75.54 932.00,74.37 932.25,73.18 932.50,71.97 932.75,70.74 933.00,69.50 933.25,68.24 933.50,66.97 933.75,65.70 934.00,64.42 934.25,63.14 934.50,61.86 934.75,60.59 935.00,59.34 935.25,58.10 935.50,56.88 935.75,55.68 936.00,54.52 936.25,53.39 936.50,52.30 936.75,51.25 937.00,50.26 937.25,49.31 937.50,48.42 937.75,47.59 938.00,46.81 938.25,46.10 938.50,45.45 938.75,44.86 939.00,44.34 939.25,43.88 939.50,43.47 939.75,43.13 940.00,42.84 940.25,42.60 940.50,42.41 940.75,42.26 941.00,42.16 941.25,42.08 941.50,42.03 941.75,42.01 942.00,42.00 942.25,42.00 942.50,42.00 942.75,42.02 943.00,42.05 943.25,42.11 943.50,42.19 943.75,42.32 944.00,42.48 944.25,42.69 944.50,42.95 944.75,43.26 945.00,43.63 945.25,44.05 945.50,44.54 945.75,45.09 946.00,45.70 946.25,46.38 946.50,47.11 946.75,47.91 947.00,48.77 947.25,49.68 947.50,50.65 947.75,51.67 948.00,52.73 948.25,53.84 948.50,54.98 948.75,56.16 949.00,57.36 949.25,58.59 949.50,59.84 949.75,61.10 950.00,62.37 950.25,63.65 950.50,64.93 950.75,66.21 951.00,67.48 951.25,68.75 951.50,70.00 951.75,71.24 952.00,72.46 952.25,73.66 952.50,74.84 952.75,76.01 953.00,77.14 953.25,78.26 953.50,79.35 953.75,80.41 954.00,81.45 954.25,82.46 954.50,83.44 954.75,84.40 955.00,85.33 955.25,86.24 955.50,87.12 955.75,87.98 956.00,88.80 956.25,89.61 956.50,90.39 956.75,91.15 957.00,91.88 957.25,92.59 957.50,93.28 957.75,93.95 958.00,94.60 958.25,95.22 958.50,95.83 958.75,96.42 959.00,96.99 959.25,97.54 959.50,98.07 959.75,98.59 960.00,99.09 960.25,99.58 960.50,100.05 960.75,100.51 961.00,100.95 961.25,101.38 961.50,101.80 961.75,102.20 962.00,102.59 962.25,102.97 962.50,103.34 962.75,103.70 963.00,104.05 963.25,104.38 963.50,104.71 963.75,105.03 964.00,105.34 964.25,105.64 964.50,105.93 964.75,106.21 965.00,106.49 965.25,106.75 965.50,107.01 965.75,107.26 966.00,107.51 966.25,107.75 966.50,107.98 966.75,108.21 967.00,108.43 967.25,108.64 967.50,108.85 967.75,109.05 968.00,109.25 968.25,109.44 968.50,109.63 968.75,109.82 969.00,109.99 969.25,110.17 969.50,110.34 969.75,110.50 970.00,110.66 970.25,110.82 970.50,110.98 970.75,111.12 971.00,111.27 971.25,111.41 971.50,111.55 971.75,111.69 972.00,111.82 972.25,111.95 972.50,112.08 972.75,112.20 973.00,112.32 973.25,112.44 973.50,112.56 973.75,112.67 974.00,112.78 974.25,112.89 974.50,113.00 974.75,113.10 975.00,113.20 975.25,113.30 975.50,113.40 975.75,113.49 976.00,113.59 976.25,113.68 976.50,113.77 976.75,113.85 977.00,113.94 977.25,114.02 977.50,114.10 977.75,114.18 978.00,114.26 978.25,114.34 978.50,114.42 978.75,114.49 979.00,114.56 979.25,114.64 979.50,114.71 979.75,114.77 980.00,114.84 980.25,114.91 980.50,114.97 980.75,115.04 981.00,115.10 981.25,115.16 981.50,115.22 981.75,115.28 982.00,115.34 982.25,115.39 982.50,115.45 982.75,115.50 983.00,115.56 983.25,115.61 983.50,115.66 983.75,115.71 984.00,115.76 984.25,115.81 984.50,115.86 984.75,115.91 985.00,115.96 985.25,116.00 985.50,116.05 985.75,116.09 986.00,116.14 986.25,116.18 986.50,116.22 986.75,116.26 987.00,116.30 987.25,116.35 987.50,116.38 987.75,116.42 988.00,116.46 988.25,116.50 988.50,116.54 988.75,116.57 989.00,116.61 989.25,116.65 989.50,116.68 989.75,116.71 990.00,116.75 990.25,116.78 990.50,116.82 990.75,116.85 991.00,116.88 991.25,116.91 991.50,116.94 991.75,116.97 992.00,117.00 992.25,117.03 992.50,117.06 992.75,117.09 993.00,117.12 993.25,117.15 993.50,117.17 993.75,117.20 994.00,117.23 994.25,117.25 994.50,117.28 994.75,117.30 995.00,117.33 995.25,117.35 995.50,117.38 995.75,117.40 996.00,117.43 996.25,117.45 996.50,117.47 996.75,117.50 997.00,117.52 997.25,117.54 997.50,117.56 997.75,117.59 998.00,117.61" fill="none" stroke="#c8d2c8" stroke-width="1.05"/>
<rect x="875.6" y="4" width="1.8" height="117" fill="#55b8de"/>
<rect x="875.6" y="119.6" width="149" height="1.8" fill="#55b8de"/>
<line x1="1006.5" y1="75" x2="990" y2="92.5" stroke="#e8e8e8" stroke-width="1.6"/>
<polygon points="985.5,97 987.3,88.3 994.2,95.2" fill="#e8e8e8"/>
<text x="942" y="132" font-size="5.8" fill="#e8e8e8" stroke="#e8e8e8" stroke-width="0.1" text-anchor="middle">Applications</text>
<text transform="translate(869.2,72.3) rotate(-90)" x="0" y="0" font-size="5.3" fill="#dcdcdc" stroke="#dcdcdc" stroke-width="0.1" text-anchor="middle">Performance/Watt</text>
<text x="959.5" y="563" font-size="16" font-weight="bold" fill="#fafafa" transform="translate(959.5 0) scale(1.1 1) translate(-959.5 0)">AMD</text>
<polygon points="1000.30,551.10 1013.10,551.10 1013.10,563.90 1009.00,559.55 1009.00,555.45 1004.40,555.45" fill="#fafafa"/>
<polygon points="1000.30,559.16 1004.14,555.58 1004.14,559.68 1008.62,559.68 1004.78,563.90 1000.30,563.90" fill="#fafafa"/>
<text x="46.3" y="75" font-size="30" font-weight="bold" fill="#fbfbfb">Core Architecture</text>
<text x="45.8" y="105.5" font-size="21.2" fill="#7aa2b6">"Zen 4" Optimized for APU</text>
<text x="64.6" y="159" font-size="19.25" fill="#ececec">Branch Prediction improvements</text>
<rect x="48" y="149.7" width="5.6" height="5.4" fill="#7b7b7b"/>
<text x="64.6" y="194.9" font-size="19.25" fill="#ececec">Larger Op-Cache</text>
<rect x="48" y="185.6" width="5.6" height="5.4" fill="#7b7b7b"/>
<text x="64.6" y="230.7" font-size="19.25" fill="#ececec">Larger Instruction Retire Queue</text>
<rect x="48" y="221.4" width="5.6" height="5.4" fill="#7b7b7b"/>
<text x="64.6" y="266.5" font-size="19.25" fill="#ececec">Larger Int/FP register file</text>
<rect x="48" y="257.2" width="5.6" height="5.4" fill="#7b7b7b"/>
<text x="64.6" y="302.4" font-size="19.25" fill="#ececec">Deeper buffers throughout the core</text>
<rect x="48" y="293.1" width="5.6" height="5.4" fill="#7b7b7b"/>
<text x="64.6" y="338.4" font-size="19.25" fill="#ececec">Power efficient AVX-512 support in</text>
<rect x="48" y="329.1" width="5.6" height="5.4" fill="#7b7b7b"/>
<text x="64.6" y="360.2" font-size="19.25" fill="#ececec">the Floating-Point Unit</text>
<text x="64.6" y="396.9" font-size="19.25" fill="#ececec">Load/Store improvements</text>
<rect x="48" y="387.6" width="5.6" height="5.4" fill="#7b7b7b"/>
<text x="64.6" y="433.2" font-size="19.25" fill="#ececec">L2 Cache 1M, 8-way</text>
<rect x="48" y="423.9" width="5.6" height="5.4" fill="#7b7b7b"/>
<text x="25.6" y="561.4" font-size="8" fill="#cfcfcf">6</text>
<text x="66.2" y="561.4" font-size="8.1" fill="#cfcfcf">AMD Ryzen<tspan font-size="4.2" dy="-2.6">TM</tspan></text>
<text x="117" y="561.4" font-size="8.1" fill="#cfcfcf">7040</text>
<rect x="139.6" y="554.5" width="0.9" height="8.5" fill="#cfcfcf"/>
<text x="145.8" y="561.4" font-size="8.1" fill="#cfcfcf">Aug 2023</text>
</svg>
</body></html>
